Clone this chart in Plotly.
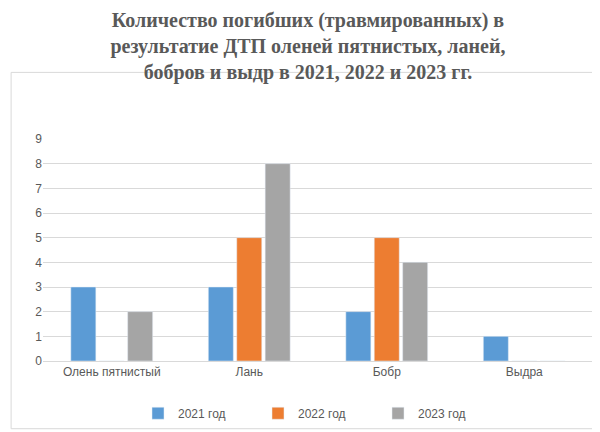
import plotly.graph_objects as go

categories = ["Олень пятнистый", "Лань", "Бобр", "Выдра"]
y2021 = [3, 3, 2, 1]
y2022 = [0, 5, 5, 0]
y2023 = [2, 8, 4, 0]
series = [("2021 год", y2021, "#5B9BD5"), ("2022 год", y2022, "#ED7D31"), ("2023 год", y2023, "#A5A5A5")]

fig = go.Figure()
for name, vals, col in series:
    fig.add_trace(go.Bar(x=categories, y=vals, name=name, marker_color=col))

fig.update_layout(
    width=600, height=432, barmode="group", bargap=0.38, bargroupgap=0.12,
    plot_bgcolor="white", paper_bgcolor="white",
    margin=dict(l=35, r=15, t=131, b=72),
    title=dict(text="<b>Количество погибших (травмированных) в<br>результатие ДТП оленей пятнистых, ланей,<br>бобров и выдр в 2021, 2022 и 2023 гг.</b>",
               x=0.5, xanchor="center", y=0.955, yanchor="top",
               font=dict(family="Liberation Serif", size=20, color="#595959")),
    font=dict(family="Liberation Sans", size=12, color="#595959"),
    yaxis=dict(range=[0, 9], dtick=1, gridcolor="#D9D9D9", zeroline=False, showline=False, tickfont=dict(size=12)),
    xaxis=dict(showline=True, linecolor="#D9D9D9", tickfont=dict(size=12)),
    legend=dict(orientation="h", x=0.5, xanchor="center", y=-0.17, yanchor="top", font=dict(size=12),
                itemwidth=30, entrywidth=75),
    shapes=[dict(type="rect", xref="paper", yref="paper", x0=-0.058, x1=1.024, y0=-0.305, y1=1.30,
                 line=dict(color="#D9D9D9", width=1))],
)
fig.write_html("out.html")
